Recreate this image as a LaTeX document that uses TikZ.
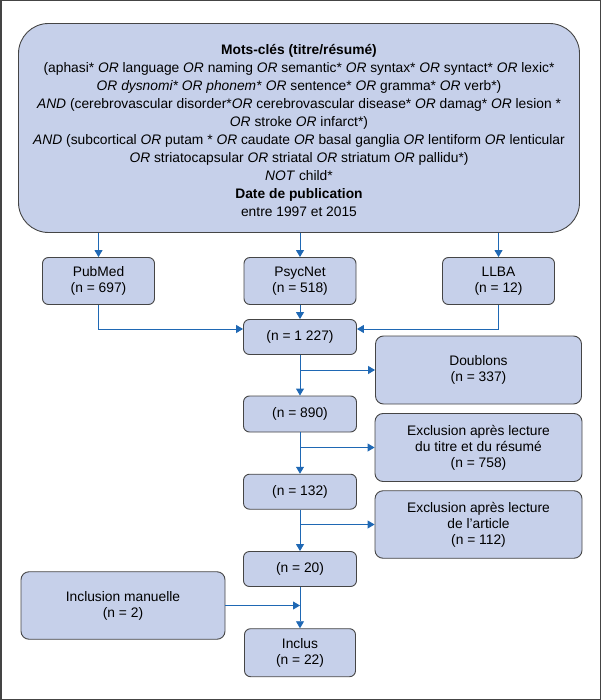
\documentclass[tikz,border=0pt]{standalone}
\usepackage{fontspec}
\setmainfont{Liberation Sans}
\usetikzlibrary{arrows.meta}
\definecolor{boxfill}{HTML}{C6D0EA}
\definecolor{boxline}{HTML}{454545}
\definecolor{arrowblue}{HTML}{1F68B4}
\definecolor{framegray}{HTML}{444444}
\tikzset{
  box/.style={draw=boxline, fill=boxfill, line width=0.9pt, rounded corners=6pt,
    align=center, inner sep=0pt, font=\fontsize{13.8}{16}\selectfont},
  flow/.style={draw=arrowblue, line width=0.9pt, -{Triangle[length=7pt,width=8pt]}},
}
\begin{document}
\begin{tikzpicture}[x=1pt,y=-1pt]
\useasboundingbox (0,0) rectangle (601,700);
\draw[framegray, line width=1.5pt] (0.75,0.75) rectangle (600.25,699.25);

\node[box, rounded corners=30pt, minimum width=561pt, minimum height=209pt] (kw) at (299,128) {};
\node[align=center, inner sep=0pt, font=\fontsize{13.8}{18.1}\selectfont] (kwtext) at (299,130.5) {%
\textbf{Mots-clés (titre/résumé)}\\
(aphasi* \textit{OR} language \textit{OR} naming \textit{OR} semantic* \textit{OR} syntax* \textit{OR} syntact* \textit{OR} lexic*\\
\textit{OR dysnomi* OR phonem*} \textit{OR} sentence* \textit{OR} gramma* \textit{OR} verb*)\\
\textit{AND} (cerebrovascular disorder*\textit{OR} cerebrovascular disease* \textit{OR} damag* \textit{OR} lesion *\\
\textit{OR} stroke \textit{OR} infarct*)\\
\textit{AND} (subcortical \textit{OR} putam * \textit{OR} caudate \textit{OR} basal ganglia \textit{OR} lentiform \textit{OR} lenticular\\
\textit{OR} striatocapsular \textit{OR} striatal \textit{OR} striatum \textit{OR} pallidu*)\\
\textit{NOT} child*\\
\textbf{Date de publication}\\
entre 1997 et 2015};

\node[box, minimum width=112pt, minimum height=47pt] (pub) at (98.5,281) {PubMed\\(n = 697)};
\node[box, minimum width=112pt, minimum height=47pt] (psy) at (300,281) {PsycNet\\(n = 518)};
\node[box, minimum width=112pt, minimum height=47pt] (llba) at (498.5,281) {LLBA\\(n = 12)};

\node[box, minimum width=113pt, minimum height=35pt] (n1) at (300,337) {(n = 1 227)};
\node[box, rounded corners=8pt, minimum width=206pt, minimum height=68pt] (doub) at (478.5,370) {Doublons\\(n = 337)};
\node[box, minimum width=113pt, minimum height=36pt] (n2) at (300,414) {(n = 890)};
\node[box, rounded corners=8pt, minimum width=207pt, minimum height=68pt] (ex1) at (478.5,447.5) {Exclusion après lecture\\du titre et du résumé\\(n = 758)};
\node[box, minimum width=113pt, minimum height=35pt] (n3) at (300,491.7) {(n = 132)};
\node[box, rounded corners=8pt, minimum width=207pt, minimum height=67.5pt] (ex2) at (478.5,524.5) {Exclusion après lecture\\de l’article\\(n = 112)};
\node[box, minimum width=113pt, minimum height=35pt] (n4) at (300,569) {(n = 20)};
\node[box, rounded corners=8pt, minimum width=204pt, minimum height=67.5pt] (man) at (123,605.5) {Inclusion manuelle\\(n = 2)};
\node[box, minimum width=111pt, minimum height=48pt] (inc) at (300,652.7) {Inclus\\(n = 22)};

\draw[flow] (kw.south -| pub.north) -- (pub.north);
\draw[flow] (kw.south -| psy.north) -- (psy.north);
\draw[flow] (kw.south -| llba.north) -- (llba.north);
\draw[flow] (psy.south) -- (n1.north);
\draw[flow] (pub.south) |- ([yshift=8pt]n1.west);
\draw[flow] (llba.south) |- ([yshift=8pt]n1.east);
\draw[flow] (n1.south) -- (n2.north);
\draw[flow] (n1.south |- doub.west) -- (doub.west);
\draw[flow] (n2.south) -- (n3.north);
\draw[flow] (n2.south |- ex1.west) -- (ex1.west);
\draw[flow] (n3.south) -- (n4.north);
\draw[flow] (n3.south |- ex2.west) -- (ex2.west);
\draw[flow] (n4.south) -- (inc.north);
\draw[flow] (man.east) -- (man.east -| n4.south);
\end{tikzpicture}
\end{document}
